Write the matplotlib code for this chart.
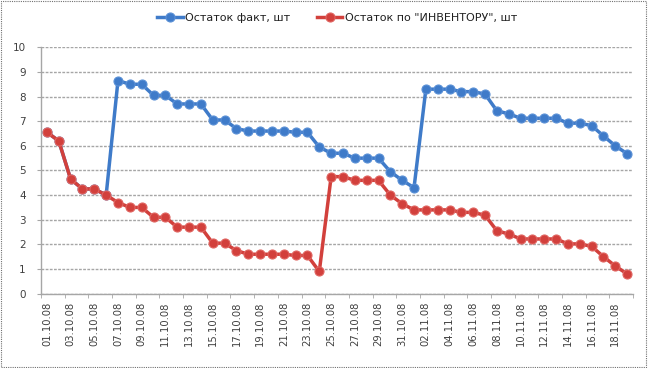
import datetime as dt
import matplotlib
matplotlib.use('Agg')
import matplotlib.pyplot as plt
from matplotlib.patches import Rectangle

# daily dates 01.10.08 .. 19.11.08
start = dt.date(2008, 10, 1)
dates = [start + dt.timedelta(days=i) for i in range(50)]
date_labels = [d.strftime('%d.%m.%y') for d in dates]

fact = [6.55, 6.2, 4.65, 4.25, 4.25, 4.0, 8.65, 8.5, 8.5, 8.05,
        8.05, 7.7, 7.7, 7.7, 7.05, 7.05, 6.7, 6.6, 6.6, 6.6,
        6.6, 6.55, 6.55, 5.95, 5.7, 5.7, 5.5, 5.5, 5.5, 4.95,
        4.6, 4.3, 8.3, 8.3, 8.3, 8.2, 8.2, 8.1, 7.42, 7.3,
        7.12, 7.12, 7.12, 7.12, 6.92, 6.92, 6.82, 6.4, 6.0, 5.68]

inventory = [6.55, 6.2, 4.65, 4.25, 4.25, 4.0, 3.7, 3.5, 3.5, 3.1,
             3.1, 2.7, 2.7, 2.7, 2.05, 2.05, 1.75, 1.6, 1.6, 1.6,
             1.6, 1.55, 1.55, 0.9, 4.75, 4.75, 4.6, 4.6, 4.6, 4.0,
             3.65, 3.4, 3.4, 3.4, 3.4, 3.3, 3.3, 3.18, 2.55, 2.42,
             2.22, 2.22, 2.22, 2.22, 2.02, 2.02, 1.92, 1.5, 1.12, 0.8]

BLUE = '#3f7bc9'
RED = '#d2403c'
GRID = '#a6a6a6'
TEXT = '#404040'

fig = plt.figure(figsize=(6.48, 3.68), dpi=100)
ax = fig.add_axes([0.0633, 0.202, 0.9137, 0.6695])

x = list(range(len(dates)))
ax.plot(x, fact, '-o', color=BLUE, lw=2.5, ms=6.5, mfc=BLUE, mec='#5a90d6', mew=0.8,
        label='Остаток факт, шт')
ax.plot(x, inventory, '-o', color=RED, lw=2.5, ms=6.5, mfc=RED, mec='#e06460', mew=0.8,
        label='Остаток по "ИНВЕНТОРУ", шт')

ax.set_xlim(-0.5, len(dates) - 0.5)
ax.set_ylim(0, 10)
ax.set_yticks(range(0, 11))
ax.yaxis.grid(True, color=GRID, lw=1.0, ls=(0, (2, 1)))
ax.set_axisbelow(True)

# labels every 2 days at category centres, ticks at category boundaries
ax.set_xticks(x[::2])
ax.set_xticklabels(date_labels[::2], rotation=90)
ax.set_xticks([i - 0.5 for i in range(0, len(dates) + 1, 2)], minor=True)
ax.tick_params(axis='x', which='major', length=0, pad=6, labelsize=7.2, labelcolor=TEXT)
ax.tick_params(axis='x', which='minor', length=3, color=GRID, direction='out')
ax.tick_params(axis='y', length=3, color=GRID, pad=8, labelsize=7.5, labelcolor=TEXT)

for s in ['top', 'right']:
    ax.spines[s].set_visible(False)
for s in ['left', 'bottom']:
    ax.spines[s].set_color(GRID)
    ax.spines[s].set_linewidth(1.0)

ax.legend(loc='lower center', bbox_to_anchor=(0.5, 1.06), ncol=2, frameon=False,
          fontsize=8, handlelength=2.3, columnspacing=2.4, handletextpad=0.2,
          labelcolor='#202020')

# dotted chart area border
fig.patches.append(Rectangle((0.002, 0.003), 0.995, 0.993, transform=fig.transFigure,
                             fill=False, ec='#707070', lw=0.8, ls=(0, (1, 1))))

fig.savefig('out.png', dpi=100)
